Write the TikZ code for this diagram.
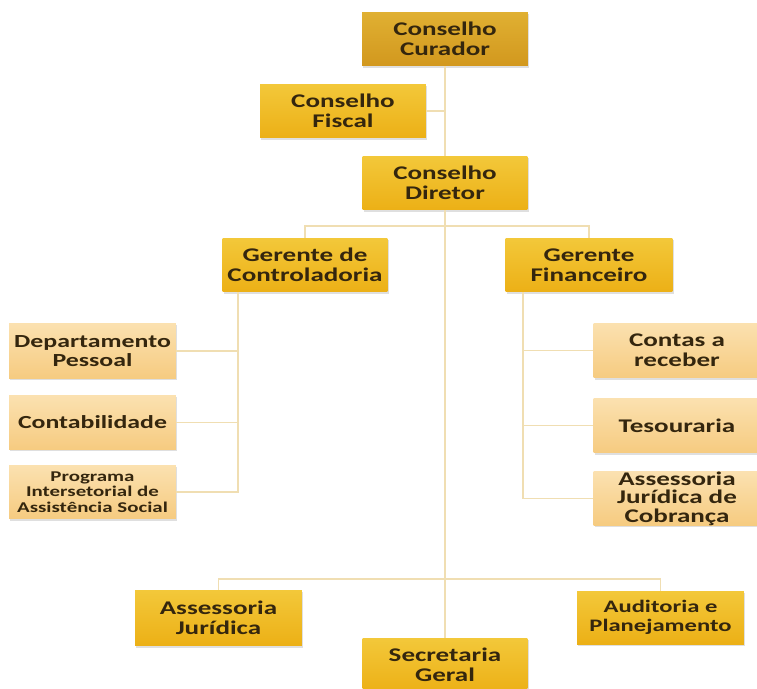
\documentclass[tikz,border=0pt]{standalone}
\usepackage{fontspec}
\setmainfont{Carlito}[FakeStretch=1.4]
\usepackage{pgf,tikz}
\usetikzlibrary{arrows,arrows.meta}
\usetikzlibrary{shadows}
\usetikzlibrary{positioning}

\definecolor{goldtop}{RGB}{243,200,58}
\definecolor{goldbot}{RGB}{236,176,22}
\definecolor{ochretop}{RGB}{224,176,50}
\definecolor{ochrebot}{RGB}{210,152,30}
\definecolor{peachtop}{RGB}{251,225,176}
\definecolor{peachbot}{RGB}{246,203,128}
\definecolor{linkcol}{RGB}{240,222,178}
\definecolor{inkcol}{RGB}{52,38,14}

\begin{document}
\begin{tikzpicture}[x=0.02cm,y=-0.02cm,
	box/.style={inner sep=0pt, align=center, text=inkcol, font=\bfseries\fontsize{11}{11.5}\selectfont,
		drop shadow={opacity=0.25, shadow xshift=0.6pt, shadow yshift=-0.9pt}},
	gold/.style={box, top color=goldtop, bottom color=goldbot},
	ochre/.style={box, top color=ochretop, bottom color=ochrebot},
	peach/.style={box, top color=peachtop, bottom color=peachbot, font=\bfseries\fontsize{10.5}{10.5}\selectfont},
	link/.style={draw=linkcol, line width=0.9pt}]
		\clip (0,0) rectangle (757,689);
		\fill[white] (0,0) rectangle (757,689);

		\node[ochre, minimum width=3.32cm, minimum height=1.08cm] (curador) at (445,39) {Conselho\\Curador};
		\node[gold, minimum width=3.32cm, minimum height=1.08cm] (fiscal) at (343,111) {Conselho\\Fiscal};
		\node[gold, minimum width=3.30cm, minimum height=1.08cm] (diretor) at (445,183) {Conselho\\Diretor};
		\node[gold, minimum width=3.30cm, minimum height=1.08cm] (controladoria) at (305,265) {Gerente de\\Controladoria};
		\node[gold, minimum width=3.34cm, minimum height=1.08cm] (financeiro) at (589,265) {Gerente\\Financeiro};

		\node[peach, minimum width=3.34cm, minimum height=1.10cm] (pessoal) at (92.5,351) {Departamento\\Pessoal};
		\node[peach, minimum width=3.34cm, minimum height=1.08cm] (contabilidade) at (92.5,422.5) {Contabilidade};
		\node[peach, minimum width=3.34cm, minimum height=1.08cm, font=\bfseries\fontsize{8.5}{8.8}\selectfont] (programa) at (92.5,492) {Programa\\Intersetorial de\\Assistência Social};

		\node[peach, minimum width=3.34cm, minimum height=1.10cm, font=\bfseries\fontsize{11}{11.5}\selectfont] (contas) at (677,350.5) {Contas a\\receber};
		\node[peach, minimum width=3.34cm, minimum height=1.10cm, font=\bfseries\fontsize{11}{11.5}\selectfont] (tesouraria) at (677,425.5) {Tesouraria};
		\node[peach, minimum width=3.34cm, minimum height=1.06cm, font=\bfseries\fontsize{11}{10.5}\selectfont] (cobranca) at (677,498.5) {Assessoria\\Jurídica de\\Cobrança};

		\node[gold, minimum width=3.34cm, minimum height=1.12cm] (juridica) at (218.5,618) {Assessoria\\Jurídica};
		\node[gold, minimum width=3.34cm, minimum height=1.06cm, font=\bfseries\fontsize{10}{11}\selectfont] (auditoria) at (660.5,617.5) {Auditoria e\\Planejamento};
		\node[gold, minimum width=3.30cm, minimum height=1.08cm] (secretaria) at (445,665) {Secretaria\\Geral};

		\coordinate (gbar) at (445,226);
		\coordinate (bbar) at (445,579);
		\coordinate (lspine) at (238,0);
		\coordinate (rspine) at (523,0);

		\draw[link] (curador) -- (diretor);
		\draw[link] (fiscal) -- (fiscal -| curador);
		\draw[link] (diretor) -- (secretaria);
		\draw[link] (controladoria) |- (gbar) -| (financeiro);
		\draw[link] (juridica) |- (bbar) -| (auditoria);
		\draw[link] (controladoria.south -| lspine) |- (programa);
		\draw[link] (pessoal) -- (pessoal -| lspine);
		\draw[link] (contabilidade) -- (contabilidade -| lspine);
		\draw[link] (financeiro.south -| rspine) |- (cobranca);
		\draw[link] (contas) -- (contas -| rspine);
		\draw[link] (tesouraria) -- (tesouraria -| rspine);
	\end{tikzpicture}
\end{document}
